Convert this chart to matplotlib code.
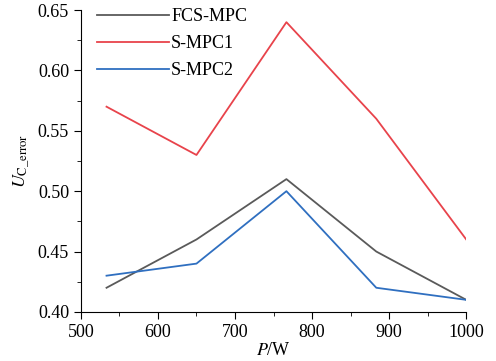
import matplotlib
matplotlib.use("Agg")
import matplotlib.pyplot as plt
from matplotlib.ticker import MultipleLocator

# power levels and error index for each controller
power = [533.3, 650, 766.7, 883.3, 1000]
fcs_mpc = [0.42, 0.46, 0.51, 0.45, 0.41]
s_mpc1 = [0.57, 0.53, 0.64, 0.56, 0.46]
s_mpc2 = [0.43, 0.44, 0.50, 0.42, 0.41]

plt.rcParams['font.family'] = ['Liberation Serif', 'DejaVu Serif']
plt.rcParams['mathtext.fontset'] = 'stix'
plt.rcParams['font.size'] = 13

fig = plt.figure(figsize=(4.96, 3.61), dpi=100)
ax = fig.add_axes([0.163, 0.136, 0.777, 0.836])

ax.plot(power, fcs_mpc, color='#5a5a5a', lw=1.3, label='FCS-MPC')
ax.plot(power, s_mpc1, color='#e8434b', lw=1.3, label='S-MPC1')
ax.plot(power, s_mpc2, color='#2f6fc0', lw=1.3, label='S-MPC2')

ax.set_xlim(500, 1000)
ax.set_ylim(0.40, 0.65)
ax.xaxis.set_major_locator(MultipleLocator(100))
ax.xaxis.set_minor_locator(MultipleLocator(50))
ax.yaxis.set_major_locator(MultipleLocator(0.05))
ax.yaxis.set_minor_locator(MultipleLocator(0.025))
ax.yaxis.set_major_formatter(plt.FormatStrFormatter('%.2f'))
ax.tick_params(which='both', direction='out')
ax.tick_params(which='major', length=5)
ax.tick_params(which='minor', length=3)
for s in ['top', 'right']:
    ax.spines[s].set_visible(False)

ax.set_xlabel(r'$P$/W', labelpad=1)
ax.set_ylabel(r'$U_{\mathrm{C\_error}}$', labelpad=4)
ax.legend(loc='upper left', frameon=False, bbox_to_anchor=(0.0, 1.06),
          handlelength=4, handletextpad=0.1, labelspacing=0.55)

fig.savefig('out.png', dpi=100)
